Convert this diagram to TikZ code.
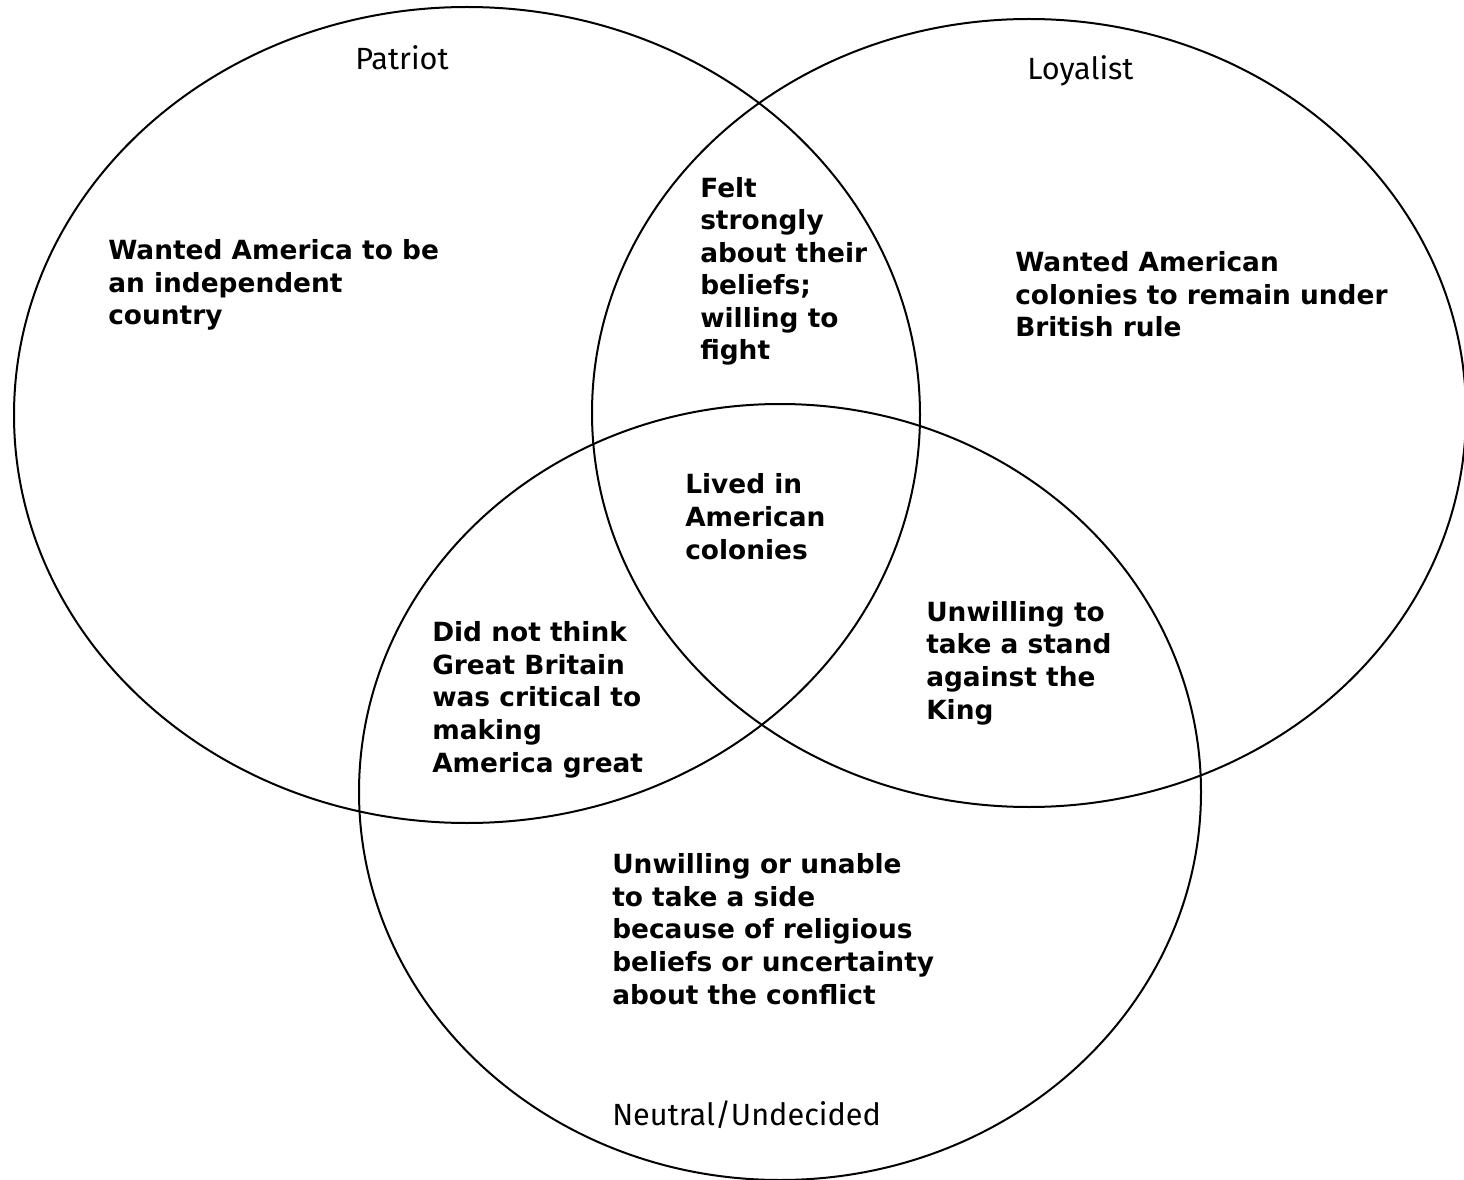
\documentclass[tikz,border=0pt]{standalone}
\usepackage{fontspec}
\setmainfont{DejaVu Sans}
\newfontfamily\titlefont{Fira Sans}
\usetikzlibrary{positioning}

\begin{document}
\begin{tikzpicture}[x=0.75pt,y=-0.75pt,
    set/.style={draw, line width=1.5pt},
    fact/.style={anchor=base west, align=left, inner sep=0pt,
      font=\bfseries\fontsize{19.8}{24.4}\selectfont},
    title/.style={anchor=base west, inner sep=0pt,
      font=\titlefont\fontsize{23}{26}\selectfont}]
  \useasboundingbox (0,0) rectangle (1464,1180);

  % The three sets
  \draw[set] (467,415) ellipse [x radius=453, y radius=408];
  \draw[set] (1029,413) ellipse [x radius=437, y radius=394];
  \draw[set] (780,792) ellipse [x radius=421, y radius=388];

  % Set names
  \node[title] (patriot) at (355,70) {Patriot};
  \node[title] (loyalist) at (1027,80) {Loyalist};
  \node[title] (neutral) at (612,1125) {Neutral/Undecided};

  % Regions (placed by the baseline of their last line)
  \node[fact] (onlyP) at (108,325) {Wanted America to be\\an independent\\country};
  \node[fact] (onlyL) at (1015,337) {Wanted American\\colonies to remain under\\British rule};
  \node[fact] (PL) at (700,360) {Felt\\strongly\\about their\\beliefs;\\willing to\\fight};
  \node[fact] (PLN) at (685,559) {Lived in\\American\\colonies};
  \node[fact] (PN) at (432,772) {Did not think\\Great Britain\\was critical to\\making\\America great};
  \node[fact] (LN) at (926,719) {Unwilling to\\take a stand\\against the\\King};
  \node[fact] (onlyN) at (612,1004) {Unwilling or unable\\to take a side\\because of religious\\beliefs or uncertainty\\about the conflict};
\end{tikzpicture}
\end{document}
